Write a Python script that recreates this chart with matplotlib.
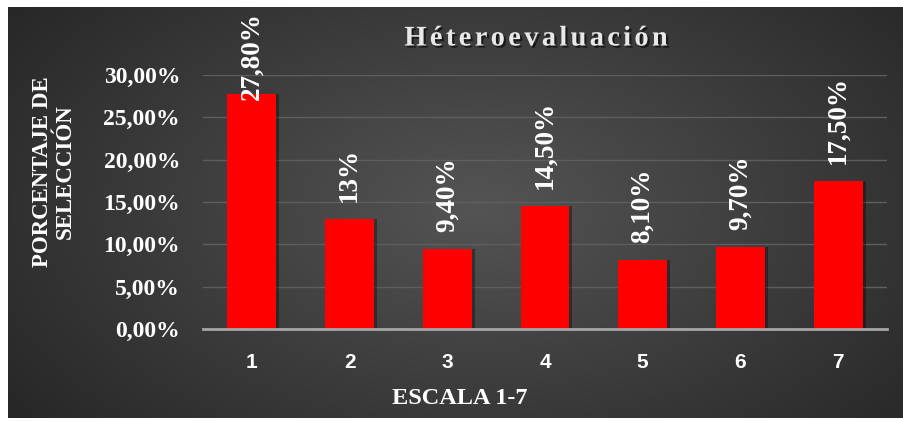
import numpy as np
import matplotlib.pyplot as plt
import matplotlib.patheffects as pe

# Datos
escala = ["1", "2", "3", "4", "5", "6", "7"]
porcentajes = [27.8, 13.0, 9.4, 14.5, 8.1, 9.7, 17.5]
etiquetas = ["27,80%", "13%", "9,40%", "14,50%", "8,10%", "9,70%", "17,50%"]
ticks_y = [0, 5, 10, 15, 20, 25, 30]
ticks_y_txt = ["0,00%", "5,00%", "10,00%", "15,00%", "20,00%", "25,00%", "30,00%"]

W, H = 904, 421
fig = plt.figure(figsize=(W / 100, H / 100), dpi=100)
fig.patch.set_facecolor("white")

# Fondo con degradado radial
bg = fig.add_axes([8 / W, 3 / H, 896 / W, 411 / H])
yy, xx = np.mgrid[0:411, 0:896]
d = np.sqrt(((xx - 470) / 560) ** 2 + ((yy - 200) / 330) ** 2)
g = np.clip(0.33 - 0.17 * d, 0.15, 0.33)
bg.imshow(np.dstack([g, g, g]), aspect="auto", interpolation="bilinear")
bg.axis("off")

ax = fig.add_axes([203 / W, 1 - 329 / H, 684 / W, 254 / H])
ax.patch.set_alpha(0)
x = np.arange(len(escala))

# sombra
ax.bar(x + 0.03, porcentajes, width=0.5, color="black", alpha=0.35, zorder=2)
ax.bar(x, porcentajes, width=0.5, color="#ff0000", zorder=3)

ax.set_xlim(-0.5, len(escala) - 0.5)
ax.set_ylim(0, 30)
ax.set_yticks(ticks_y)
ax.set_yticklabels(ticks_y_txt)
ax.set_xticks(x)
ax.set_xticklabels(escala)
ax.grid(axis="y", color="#5e5e5e", linewidth=1, zorder=1)
for s in ["top", "right", "left"]:
    ax.spines[s].set_visible(False)
ax.spines["bottom"].set_color("#a6a6a6")
ax.spines["bottom"].set_linewidth(2)
ax.spines["bottom"].set_zorder(4)
ax.tick_params(length=0)
ax.tick_params(axis="y", pad=16.5, colors="white")
ax.tick_params(axis="x", pad=17, colors="white")
for t in ax.get_yticklabels():
    t.set_fontfamily("Liberation Serif")
    t.set_fontweight("bold")
    t.set_fontsize(17)
for t in ax.get_xticklabels():
    t.set_fontfamily("Liberation Sans")
    t.set_fontweight("bold")
    t.set_fontsize(15)

# Etiquetas de valor
for xi, v, lab in zip(x, porcentajes, etiquetas):
    yb = min(v + 2.0, 27.1)
    ax.text(xi, yb, lab, rotation=90, ha="center", va="bottom",
            color="white", fontsize=19.5, fontweight="bold",
            family="Liberation Serif", zorder=5, clip_on=False)

# Titulos de ejes
fig.text(54 / W, 1 - 172 / H, "PORCENTAJE DE\nSELECCIÓN", rotation=90,
         ha="center", va="center", color="white", fontsize=16.5,
         fontweight="bold", family="Liberation Serif", linespacing=1.1)
fig.text(460 / W, 1 - 398 / H, "ESCALA 1-7", ha="center", va="center",
         color="white", fontsize=17.5, fontweight="bold", family="Liberation Serif")

# Titulo con espaciado de letras
titulo = "Héteroevaluación"
fig.canvas.draw()
r = fig.canvas.get_renderer()
kw = dict(fontsize=20.5, fontweight="bold", family="Liberation Serif",
          color="#e8e8e8", va="center", ha="left",
          path_effects=[pe.withSimplePatchShadow(offset=(1.5, -1.5),
                                                 shadow_rgbFace="black", alpha=0.6)])
anchos = []
for c in titulo:
    t = fig.text(0, 0, c, **kw)
    anchos.append(t.get_window_extent(r).width)
    t.remove()
esp = 3.3
total = sum(anchos) + esp * (len(titulo) - 1)
xp = 536 - total / 2
for c, w in zip(titulo, anchos):
    fig.text(xp / W, 1 - 39 / H, c, **kw)
    xp += w + esp

fig.savefig("out.png", dpi=100)
